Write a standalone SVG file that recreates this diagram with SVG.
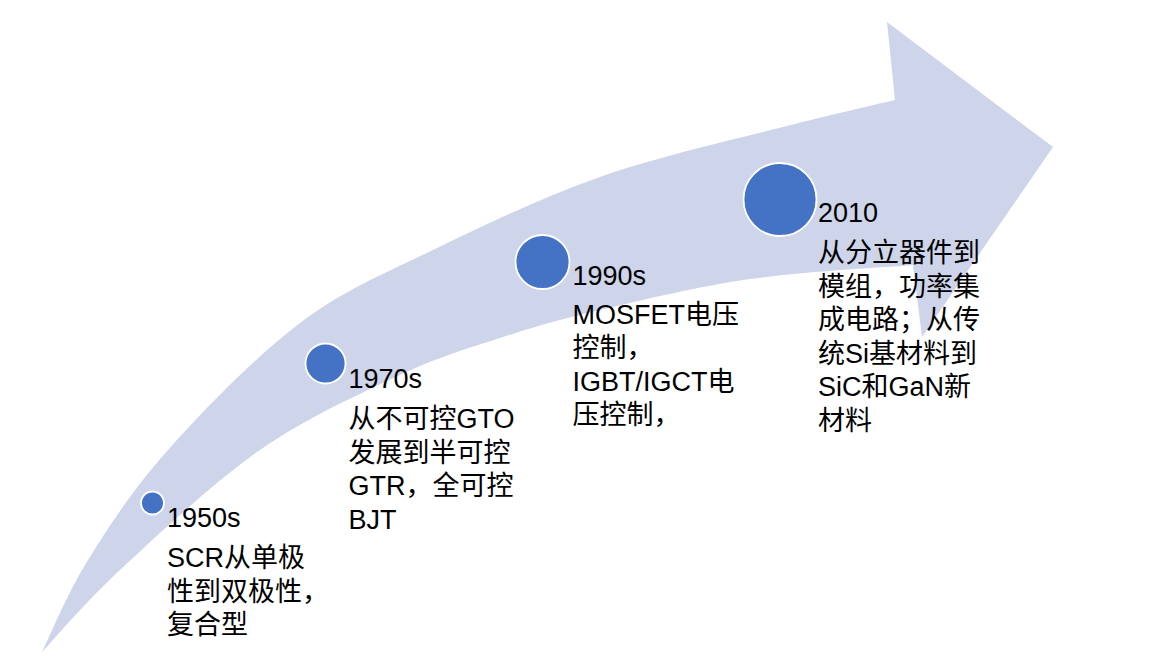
<svg xmlns="http://www.w3.org/2000/svg" width="1174" height="658" viewBox="0 0 1174 658">
  <style>
    .band { fill: #CED5EA; stroke: none; }
    .dot { fill: #4472C4; stroke: #FFFFFF; stroke-width: 1.8; }
    .lbl { font-family: 'Liberation Sans', 'Noto Sans CJK SC', sans-serif; font-size: 27px; fill: #000000; }
  </style>
  <rect x="0" y="0" width="1174" height="658" fill="#FFFFFF"/>
  <g id="arrow">
    <path class="band" d="M42,652 C49.7,636.7 67,593.7 88,560 C109,526.3 132.7,489.5 168,450 C203.3,410.5 255.8,356.3 300,323 C344.2,289.7 383,274.3 433,250 C483,225.7 541.7,197.5 600,177 C658.3,156.5 733.8,139.8 783,127 C832.2,114.2 876.3,104.5 895,100 L887,22 L1053,147 L922,337 L913,265 C885.8,267.3 802.2,271.5 750,279 C697.8,286.5 641.7,300.2 600,310 C558.3,319.8 533.3,327.2 500,338 C466.7,348.8 440,356.3 400,375 C360,393.7 306.7,417.5 260,450 C213.3,482.5 156.3,536.3 120,570 C83.7,603.7 55,638.3 42,652 Z"/>
  </g>
  <g id="connectors"></g>
  <g id="node-1950s">
    <circle class="dot" cx="152.5" cy="503" r="11.5"/>
    <text class="lbl" x="167" y="527">1950s</text>
    <text class="lbl" x="167" y="567">SCR从单极</text>
    <text class="lbl" x="167" y="600.5">性到双极性，</text>
    <text class="lbl" x="167" y="634">复合型</text>
  </g>
  <g id="node-1970s">
    <circle class="dot" cx="325.5" cy="363.5" r="20"/>
    <text class="lbl" x="348.5" y="388">1970s</text>
    <text class="lbl" x="348.5" y="428">从不可控GTO</text>
    <text class="lbl" x="348.5" y="461.5">发展到半可控</text>
    <text class="lbl" x="348.5" y="495">GTR，全可控</text>
    <text class="lbl" x="348.5" y="528.5">BJT</text>
  </g>
  <g id="node-1990s">
    <circle class="dot" cx="542.5" cy="262" r="27"/>
    <text class="lbl" x="572.5" y="285">1990s</text>
    <text class="lbl" x="572.5" y="323.5">MOSFET电压</text>
    <text class="lbl" x="572.5" y="357">控制，</text>
    <text class="lbl" x="572.5" y="390.5">IGBT/IGCT电</text>
    <text class="lbl" x="572.5" y="424">压控制，</text>
  </g>
  <g id="node-2010">
    <circle class="dot" cx="780" cy="199.5" r="36.5"/>
    <text class="lbl" x="818" y="222">2010</text>
    <text class="lbl" x="818" y="262">从分立器件到</text>
    <text class="lbl" x="818" y="295.5">模组，功率集</text>
    <text class="lbl" x="818" y="329">成电路；从传</text>
    <text class="lbl" x="818" y="362.5">统Si基材料到</text>
    <text class="lbl" x="818" y="396">SiC和GaN新</text>
    <text class="lbl" x="818" y="429.5">材料</text>
  </g>
</svg>
